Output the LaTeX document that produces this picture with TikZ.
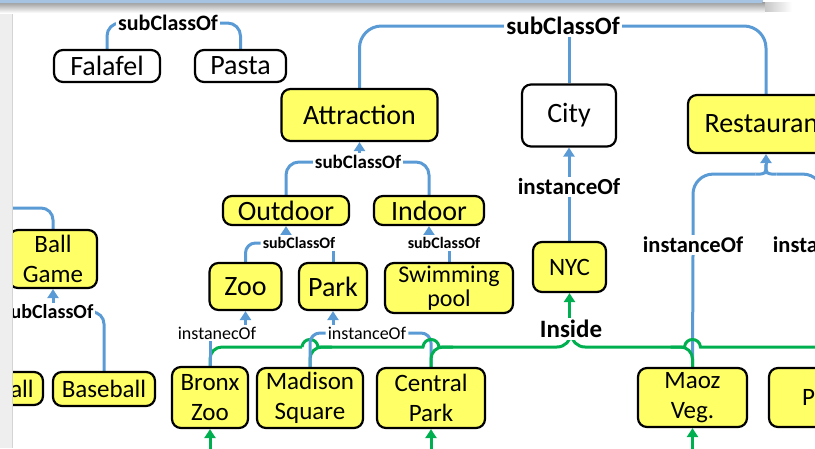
\documentclass[tikz,border=0pt]{standalone}
\usepackage{fontspec}
\setmainfont{Carlito}
\usetikzlibrary{arrows.meta,calc}
\pgfdeclarelayer{background}
\pgfsetlayers{background,main}
\definecolor{conceptyellow}{HTML}{FFFF66}
\definecolor{linkblue}{HTML}{5B9BD5}
\definecolor{linkgreen}{HTML}{00B050}
\definecolor{barblue}{HTML}{A6C4E2}
\definecolor{stripgray}{HTML}{EEEEEE}
\definecolor{stripedge}{HTML}{D4D4D4}
\tikzset{
  cbox/.style={draw=black, line width=2.2pt, rounded corners=9pt, inner sep=0pt, align=center},
  classbox/.style={cbox, fill=white, font=\fontsize{28}{30}\selectfont},
  yclass/.style={cbox, fill=conceptyellow, font=\fontsize{28}{30}\selectfont},
  ybox/.style={cbox, fill=conceptyellow, font=\fontsize{25}{30}\selectfont},
  lbl/.style={fill=white, inner sep=2pt, font=\bfseries\fontsize{#1}{#1}\selectfont},
  rlbl/.style={fill=white, inner sep=2pt, font=\fontsize{#1}{#1}\selectfont},
  bline/.style={draw=linkblue, line width=3pt},
  gline/.style={draw=linkgreen, line width=3pt},
  uptip/.style={-{Triangle[width=11pt,length=9pt]}},
}
\begin{document}
\begin{tikzpicture}[x=1pt,y=-1pt]
\useasboundingbox (0,0) rectangle (815,448);

% ---- classes ----
\node[classbox, minimum width=106pt, minimum height=32pt] (falafel) at (107,66) {Falafel};
\node[classbox, minimum width=91pt, minimum height=32pt] (pasta) at (240.5,66) {Pasta};
\node[yclass, minimum width=156pt, minimum height=52pt] (attraction) at (359.5,115) {Attraction};
\node[classbox, minimum width=94pt, minimum height=62pt] (city) at (569,115.5) {City};
\node[yclass, minimum width=156pt, minimum height=58pt] (restaurant) at (766,124) {Restaurant};
\node[yclass, minimum width=126pt, minimum height=29pt] (outdoor) at (286,210.5) {Outdoor};
\node[yclass, minimum width=110pt, minimum height=29pt] (indoor) at (429,210.5) {Indoor};
\node[yclass, minimum width=72pt, minimum height=47pt] (zoo) at (245.5,286.5) {Zoo};
\node[yclass, minimum width=68pt, minimum height=47pt] (park) at (333,286.5) {Park};
\node[ybox, font=\fontsize{24}{24}\selectfont, minimum width=128pt, minimum height=50pt] (pool) at (449,288) {Swimming\\pool};
\node[ybox, minimum width=88pt, minimum height=58pt] (ballgame) at (53,259) {Ball\\Game};

% ---- instances ----
\node[ybox, minimum width=101pt, minimum height=33pt] (football) at (-7.5,388.5) {Football};
\node[ybox, minimum width=102pt, minimum height=34pt] (baseball) at (104,389) {Baseball};
\node[ybox, minimum width=76pt, minimum height=61pt] (bronx) at (210,397.5) {Bronx\\Zoo};
\node[ybox, minimum width=106pt, minimum height=60pt] (madison) at (310,398) {Madison\\Square};
\node[ybox, minimum width=108pt, minimum height=60pt] (central) at (431,398) {Central\\Park};
\node[ybox, minimum width=73pt, minimum height=50pt] (nyc) at (569.5,267) {NYC};
\node[ybox, minimum width=109pt, minimum height=59pt] (maoz) at (692.5,397.5) {Maoz\\Veg.};
\node[ybox, minimum width=110pt, minimum height=59pt, text width=44pt, align=left] (pnode) at (824,397.5) {P};

% ---- relation labels ----
\node[lbl=22] (fplbl) at (168,23) {subClassOf};
\node[lbl=25] (toplbl) at (563,26) {subClassOf};
\node[lbl=19] (alb) at (358,162) {subClassOf};
\node[lbl=16] (olb) at (299,243) {subClassOf};
\node[lbl=16] (ilb) at (444,243) {subClassOf};
\node[lbl=20] (bglb) at (48,312) {subClassOf};
\node[lbl=23] (clb) at (569,187) {instanceOf};
\node[rlbl=18] (zlb) at (217,333) {instanecOf};
\node[rlbl=18] (plb) at (367,333) {instanceOf};
\node[lbl=22.5] (mlb) at (693,245) {instanceOf};
\node[lbl=22.5] (i2lb) at (823,245) {instanceOf};
\node[lbl=25] (inside) at (571,329) {Inside};

% ---- helper points ----
\coordinate (bgfeed) at (-30,208);
\coordinate (rjoin) at ($(restaurant.south)+(0,20)$);
\coordinate (rtip) at ($(restaurant.south)+(0,10)$);
\coordinate (gm) at (madison.north |- 0,347);
\coordinate (gc) at (central.north |- 0,347);
\coordinate (gz) at (maoz.north |- 0,347);
\coordinate (gend) at (840,347);
\coordinate (bronxin) at ($(bronx.south)+(0,30)$);
\coordinate (centralin) at ($(central.south)+(0,30)$);
\coordinate (maozin) at ($(maoz.south)+(0,30)$);

\begin{pgfonlayer}{background}
% subclass links
\draw[bline, rounded corners=13pt] (falafel.north) |- (fplbl.west);
\draw[bline, rounded corners=13pt] (pasta.north) |- (fplbl.east);
\draw[bline, rounded corners=22pt] (attraction.north) |- (toplbl.west);
\draw[bline, rounded corners=22pt] (restaurant.north) |- (toplbl.east);
\draw[bline] (city.north) -- (city.north |- toplbl.south);
\draw[bline, rounded corners=13pt] (outdoor.north) |- (alb.west);
\draw[bline, rounded corners=13pt] (indoor.north) |- (alb.east);
\draw[bline, uptip] (attraction.south |- alb.north) -- (attraction.south);
\draw[bline, rounded corners=10pt] (zoo.north) |- (olb.west);
\draw[bline, uptip] (outdoor.south |- olb.north) -- (outdoor.south);
\draw[bline] (park.north |- olb.south) -- (park.north);
\draw[bline, uptip] (indoor.south |- ilb.north) -- (indoor.south);
\draw[bline] (pool.north |- ilb.south) -- (pool.north);
\draw[bline, rounded corners=12pt] (bgfeed) -| (ballgame.north);
\draw[bline, uptip] (ballgame.south |- bglb.north) -- (ballgame.south);
\draw[bline, rounded corners=12pt] (baseball.north) |- (bglb.east);
\draw[bline, rounded corners=12pt] (football.north) |- (bglb.west);

% instance links
\draw[bline, uptip] (clb.north) -- (city.south);
\draw[bline] (nyc.north) -- (nyc.north |- clb.south);
\draw[bline, uptip] (zoo.south |- zlb.north) -- (zoo.south);
\draw[bline, uptip] (park.south |- plb.north) -- (park.south);
\draw[bline, rounded corners=10pt] (central.north) |- (plb.east);
\draw[bline, rounded corners=20pt] (mlb.north) |- ($(rjoin)+(-10.5,0)$);
\draw[bline] ($(rjoin)+(-10.5,0)$) .. controls (rjoin) .. (rtip);
\draw[bline, rounded corners=20pt] (i2lb.north) |- ($(rjoin)+(10.5,0)$);
\draw[bline] ($(rjoin)+(10.5,0)$) .. controls (rjoin) .. (rtip);
\draw[bline, uptip] (rtip) -- (restaurant.south);

% "Inside" links, left half
\draw[gline, rounded corners=12pt] (bronx.north) |- ($(gm)+(-8,0)$);
\draw[gline] ($(gm)+(-8,0)$) .. controls ($(gm)+(-7,-10)$) and ($(gm)+(7,-10)$) .. ($(gm)+(8,0)$)
  -- ($(gc)+(-8,0)$) .. controls ($(gc)+(-7,-10)$) and ($(gc)+(7,-10)$) .. ($(gc)+(8,0)$);
\draw[gline, rounded corners=14pt] ($(gc)+(8,0)$) -| (inside.center);
\draw[gline, rounded corners=12pt] (madison.north) |- ($(gm)+(22,0)$);
\draw[bline] (bronx.north) -- (bronx.north |- zlb.south);
\draw[bline, rounded corners=10pt] (madison.north) |- (plb.west);
\draw[gline, rounded corners=12pt] (central.north) |- ($(gc)+(22,0)$);

% "Inside" links, right half
\draw[bline] (maoz.north) -- (mlb.south);
\draw[gline, rounded corners=14pt] (inside.center) |- ($(gz)+(-8,0)$);
\draw[gline] ($(gz)+(-8,0)$) .. controls ($(gz)+(-7,-10)$) and ($(gz)+(7,-10)$) .. ($(gz)+(8,0)$) -- (gend);
\draw[gline, rounded corners=12pt] (maoz.north) |- ($(gz)+(-22,0)$);
\draw[gline, uptip] (nyc.south |- inside.north) -- (nyc.south);

% incoming "Inside" links from below
\draw[gline, uptip] (bronxin) -- (bronx.south);
\draw[gline, uptip] (centralin) -- (central.south);
\draw[gline, uptip] (maozin) -- (maoz.south);
\end{pgfonlayer}

% ---- window frame: left strip and top bar with its shadow ----
\fill[stripgray] (0,0) rectangle (12,448);
\draw[stripedge, line width=1pt] (12.5,8) -- (12.5,448);
\shade[top color=black!38, bottom color=white] (0,2.5) rectangle (765,13);
\shade[left color=black!22, right color=white] (765,2.5) rectangle (792,11);
\fill[barblue, rounded corners=1.5pt] (-5,-3) rectangle (763,3);
\end{tikzpicture}
\end{document}
